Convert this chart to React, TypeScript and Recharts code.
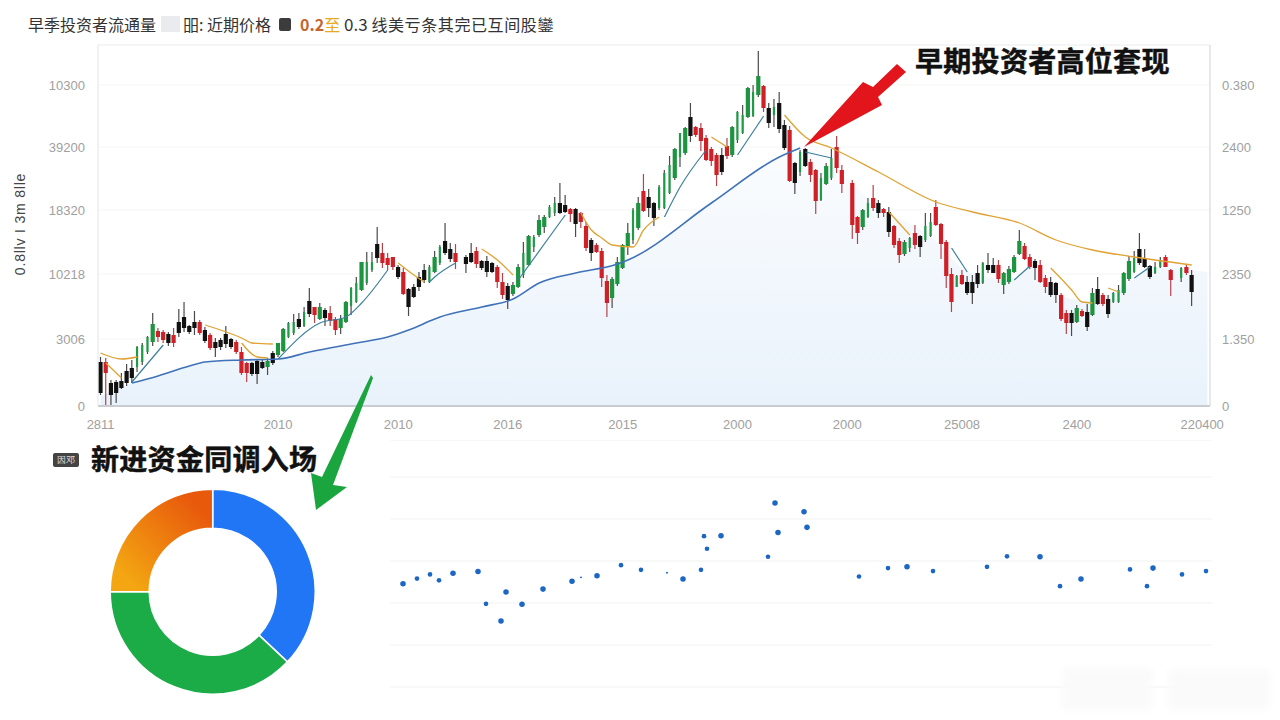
import React from 'react';
import {
  Area,
  Bar,
  CartesianGrid,
  Cell,
  ComposedChart,
  Line,
  Pie,
  PieChart,
  ReferenceLine,
  Scatter,
  ScatterChart,
  XAxis,
  YAxis,
  ZAxis,
} from 'recharts';

const FONT = '"Noto Sans CJK SC", "Noto Sans", sans-serif';
const AXIS_FONT = '"Liberation Sans", Arial, sans-serif';

// [high, body top, body bottom, low, kind]  u green, t thin green, d red, k black
type Candle = [number, number, number, number, string] | null;

const earlyCandles: Candle[] = [
  [49, 44, 13, 11, 'k'], [48, 44, 33, 1, 'd'], [26, 23, 11, 1, 'k'], [26, 24, 13, 3, 'k'], [33, 25, 18, 17, 'k'],
  [42, 35, 23, 20, 'k'], [46, 38, 28, 23, 'k'], [60, 59, 39, 34, 't'], [63, 61, 44, 41, 't'], [70, 69, 54, 52, 't'],
  [93, 82, 64, 60, 'u'], [78, 75, 69, 64, 'd'], [76, 74, 66, 63, 'd'], [74, 72, 63, 60, 'k'], [78, 71, 63, 59, 'd'],
  [97, 84, 73, 69, 'k'], [104, 89, 78, 74, 'k'], [81, 80, 74, 72, 'k'], [95, 84, 78, 71, 'k'],
  [86, 84, 73, 71, 'd'], [79, 76, 65, 63, 'k'], [73, 71, 58, 56, 'd'], [68, 64, 58, 49, 'k'], [68, 66, 59, 56, 'k'],
  [80, 72, 62, 58, 'k'], [68, 67, 59, 57, 'k'], [66, 64, 54, 52, 'd'], [59, 54, 33, 31, 'd'], [44, 43, 33, 24, 'd'],
  [44, 43, 32, 30, 'k'], [47, 45, 32, 22, 'k'], [46, 44, 38, 37, 'k'], [48, 45, 39, 31, 'u'], [55, 53, 43, 41, 'k'],
  [63, 63, 51, 49, 'u'], [78, 77, 55, 54, 'u'], [84, 83, 69, 68, 't'], [92, 84, 73, 71, 't'], [93, 87, 79, 77, 'k'],
  [99, 94, 80, 79, 't'], [118, 105, 92, 89, 'k'], [99, 99, 91, 83, 'd'], [103, 99, 87, 86, 'u'], [98, 96, 88, 80, 'k'],
  [100, 93, 85, 80, 'd'], [89, 87, 76, 71, 'd'], [91, 87, 78, 72, 'u'], [105, 104, 84, 83, 'u'], [119, 118, 100, 91, 't'],
  [129, 123, 104, 103, 't'], [144, 144, 116, 115, 'u'], [154, 144, 123, 121, 't'], [154, 144, 136, 134, 't'], [179, 162, 148, 143, 'k'],
  [163, 153, 143, 138, 'd'], [153, 148, 141, 136, 'd'], [149, 149, 139, 136, 'd'], [141, 139, 129, 127, 'k'], [138, 134, 112, 111, 'd'],
  [118, 117, 99, 90, 'k'], [122, 119, 109, 108, 'k'], [134, 129, 119, 115, 'k'], [142, 136, 126, 123, 'k'], [141, 139, 124, 123, 't'],
  [155, 149, 134, 133, 'u'], [161, 159, 143, 141, 't'], [183, 165, 153, 151, 'k'], [163, 157, 147, 144, 'k'], [162, 153, 144, 137, 'd'],
  null, [151, 149, 142, 133, 'k'], [163, 153, 144, 143, 'k'], [159, 155, 142, 138, 'd'], [146, 145, 138, 136, 'k'], [150, 145, 134, 129, 'k'],
];

const midCandles: Candle[] = [
  [144, 143, 134, 133, 'k'], [141, 139, 124, 118, 'd'], [133, 124, 111, 107, 'd'], [123, 120, 106, 97, 'k'], [124, 121, 112, 110, 'u'],
  [142, 139, 119, 118, 'u'], [164, 153, 131, 128, 't'], [171, 170, 141, 140, 'u'], [171, 169, 159, 154, 't'],
  [191, 186, 171, 169, 'u'], [191, 189, 179, 173, 'u'], [201, 199, 189, 188, 't'], [209, 203, 193, 190, 't'], [223, 203, 193, 192, 'k'],
  [211, 201, 194, 193, 'k'], [198, 197, 192, 184, 'd'], [198, 197, 182, 169, 'k'], [194, 193, 184, 178, 'd'], [184, 180, 158, 155, 'd'],
  [168, 166, 153, 145, 'k'], [163, 161, 154, 153, 'd'], [158, 155, 128, 119, 'd'], [131, 125, 103, 89, 'd'], [129, 127, 108, 98, 'u'],
  [149, 144, 122, 120, 'u'], [162, 161, 138, 137, 'u'], [183, 173, 160, 151, 'u'], [198, 196, 166, 162, 't'], [209, 203, 178, 176, 'u'],
  [232, 215, 195, 194, 'd'], [217, 209, 198, 189, 'k'], [204, 203, 188, 180, 'k'], [221, 219, 198, 196, 't'], [236, 233, 198, 197, 't'],
  [250, 241, 213, 212, 't'], [258, 257, 228, 226, 'u'], [273, 273, 249, 239, 't'], [279, 278, 253, 251, 'u'], [303, 289, 270, 264, 'k'],
  [280, 279, 271, 269, 'd'], [283, 278, 265, 255, 'd'], [271, 268, 246, 245, 'd'], [259, 257, 245, 240, 'd'], [253, 251, 231, 220, 'd'],
  [258, 251, 234, 231, 'k'], [268, 260, 250, 247, 'd'], [280, 279, 251, 249, 'u'], [295, 294, 266, 263, 't'], [301, 291, 273, 272, 't'],
  [319, 318, 289, 288, 'u'], [321, 314, 290, 289, 't'], [355, 330, 311, 309, 'u'], [321, 320, 298, 294, 'd'], [303, 298, 283, 278, 'k'],
  [307, 299, 291, 279, 't'], [314, 303, 277, 273, 'k'], [286, 281, 258, 256, 'k'], [280, 276, 225, 224, 'd'], [244, 243, 223, 212, 'k'],
  [256, 254, 234, 230, 't'], [258, 257, 240, 239, 'k'], [247, 244, 231, 224, 'd'], [237, 236, 205, 192, 'd'], [233, 228, 206, 205, 't'],
  [243, 240, 222, 221, 'u'], [257, 248, 228, 226, 't'], [270, 259, 238, 233, 'd'], [241, 236, 222, 213, 'd'], null, [226, 223, 181, 167, 'd'],
  [190, 189, 173, 162, 'd'], [197, 196, 179, 176, 'u'], [208, 203, 189, 188, 't'], [221, 208, 198, 195, 'd'], [206, 203, 193, 188, 'k'],
];

const lateCandles: Candle[] = [
  [198, 197, 193, 189, 'd'], [199, 194, 174, 169, 'k'], [181, 180, 161, 158, 'd'], [168, 165, 151, 143, 'd'], [166, 164, 152, 150, 'u'],
  [169, 168, 158, 154, 't'], [181, 173, 161, 157, 'd'], [171, 170, 159, 149, 'k'], [193, 180, 166, 164, 't'], [193, 184, 170, 169, 't'],
  [206, 199, 181, 180, 'd'], [183, 182, 162, 147, 'd'], [166, 164, 130, 118, 'd'], [138, 132, 104, 94, 'd'], [131, 130, 119, 119, 't'],
  [136, 131, 122, 121, 'd'], [130, 124, 113, 111, 'k'], [131, 124, 113, 102, 'k'], [141, 133, 122, 118, 'k'], [144, 143, 123, 122, 't'],
  [153, 141, 136, 133, 'k'], [148, 141, 133, 133, 'k'], [146, 141, 127, 123, 'd'], [134, 133, 121, 112, 'u'], [140, 137, 124, 122, 'u'],
  [151, 149, 134, 133, 'u'], [176, 165, 152, 151, 'u'], [163, 160, 147, 146, 'd'], [152, 149, 139, 137, 'd'], [147, 145, 138, 126, 'k'],
  [146, 141, 124, 123, 'd'], [131, 128, 119, 113, 'd'], [129, 124, 111, 109, 'k'], [124, 123, 111, 103, 'k'], [113, 111, 87, 85, 'd'],
  [96, 93, 83, 72, 'd'], [96, 93, 83, 70, 'k'], [101, 98, 84, 83, 'u'], [97, 95, 90, 89, 'd'], [102, 94, 79, 75, 'k'],
  [118, 113, 91, 90, 'u'], [129, 117, 102, 101, 'k'], [113, 111, 102, 100, 'd'], [111, 107, 92, 88, 'k'], [114, 113, 104, 103, 't'],
  [121, 116, 104, 103, 't'], [134, 133, 113, 111, 'u'], [150, 145, 127, 125, 'u'], [155, 148, 134, 133, 't'], [173, 157, 143, 141, 'k'],
  [157, 148, 139, 138, 'k'], [141, 140, 129, 127, 'k'], [144, 139, 133, 132, 't'], [149, 146, 139, 138, 't'], [151, 149, 139, 139, 'd'],
  [137, 136, 126, 110, 'd'], null, [139, 138, 128, 124, 't'], [141, 139, 133, 131, 'd'], [136, 131, 114, 100, 'k'],
];

const candles = [...earlyCandles, ...midCandles, ...lateCandles];

// [row, level]
const longBlue = [[6, 23], [11, 30], [17, 40], [20, 44], [27, 46], [34, 47], [40, 54], [49, 63], [55, 69], [59, 76], [65, 89], [73, 99], [79, 107], [84, 123], [91, 133], [99, 142], [101, 146], [117, 203], [130, 249], [134, 258]];
const shortBlue1 = [[6, 24], [12, 61]];
const shortBlue2 = [[34, 47], [42, 83], [47, 89], [50, 103], [55, 136]];
const shortBlue3 = [[63, 124], [64, 129], [68, 143]];
const shortBlue4 = [[80, 126], [89, 191]];
const shortBlue5 = [[108, 189], [111, 219], [116, 256]];
const shortBlue6 = [[122, 251], [127, 290]];
const shortBlue7 = [[135, 254], [140, 248]];
const shortBlue8 = [[163, 158], [166, 134]];
const shortBlue9 = [[175, 126], [178, 140]];
const shortBlue10 = [[198, 128], [201, 139]];
const gold1 = [[0, 53], [4, 47], [7, 49]];
const gold2 = [[1, 43], [4, 28]];
const gold3 = [[20, 81], [27, 68], [29, 63], [33, 62]];
const gold4 = [[27, 63], [30, 49], [32, 48]];
const gold5 = [[57, 143], [60, 131], [62, 124]];
const gold6 = [[73, 157], [76, 146], [79, 131]];
const gold7 = [[92, 193], [94, 176], [96, 168], [98, 161], [102, 159], [104, 176], [107, 189]];
const gold8 = [[117, 269], [120, 259]];
const gold9 = [[131, 291], [135, 269], [140, 258], [149, 234], [160, 204], [167, 194], [176, 183], [183, 166], [190, 156], [198, 149], [209, 141]];
const gold10 = [[151, 194], [155, 171]];
const gold11 = [[182, 138], [186, 116], [188, 104], [190, 103]];
const gold12 = [[193, 118], [195, 114]];
const fillLevels = [[0, 10], [6, 23], [11, 30], [17, 40], [20, 44], [27, 46], [34, 47], [40, 54], [49, 63], [55, 69], [59, 76], [65, 89], [73, 99], [79, 107], [84, 123], [91, 133], [99, 142], [101, 146], [117, 203], [130, 249], [134, 258], [149, 200], [160, 165], [166, 135], [175, 126], [178, 140], [184, 110], [190, 105], [198, 128], [201, 139], [212, 134]];

const blueSegments = [shortBlue1, shortBlue2, shortBlue3, shortBlue4, shortBlue5, shortBlue6, shortBlue7, shortBlue8, shortBlue9, shortBlue10];
const goldSegments = [gold1, gold2, gold3, gold4, gold5, gold6, gold7, gold8, gold9, gold10, gold11, gold12];

const ROW_COUNT = 213;
const yTicks = [0, 67, 132, 196, 259, 321];
const leftLabels = ['0', '3006', '10218', '18320', '39200', '10300'];
const rightLabels = ['0', '1.350', '2350', '1250', '2400', '0.380'];
const xTicks = [0, 34, 57, 78, 100, 122, 143, 165, 187, 211];
const xLabels = ['2811', '2010', '2010', '2016', '2015', '2000', '2000', '25008', '2400', '220400'];

const rows: any[] = [];
for (let i = 0; i < ROW_COUNT; i++) {
  const c = candles[i];
  rows.push(c ? { i, range: [c[3], c[0]], top: c[1], bottom: c[2], kind: c[4] } : { i });
}
const addSeries = (key: string, points: number[][]) => {
  points.forEach(([i, v]) => {
    rows[i][key] = v;
  });
};
addSeries('fillLevel', fillLevels);
addSeries('longBlue', longBlue);
blueSegments.forEach((s, n) => addSeries('blue' + n, s));
goldSegments.forEach((s, n) => addSeries('gold' + n, s));

// donut shares, clockwise from the top
const shareNames = ['blue', 'green', 'orange'];
const shareValues = [37, 38, 25];
const shareColors = ['#2176f5', '#1bab47', 'url(#orangeFade)'];
const shares = shareNames.map((name, n) => ({ name, value: shareValues[n] }));

// lower dot panel
const dotX = [13, 27, 40, 49, 63, 88, 96, 111, 116, 132, 153, 182, 191, 207, 231, 251, 277, 293, 311, 314, 317, 331, 378, 385, 388, 414, 417, 469, 498, 517, 543, 597, 617, 650, 670, 691, 740, 757, 763, 792, 816];
const dotY = [24.6, 25.8, 26.8, 25.4, 27.1, 27.5, 19.8, 15.7, 22.6, 19.7, 23.3, 25.2, 26.1, 26.5, 29, 27.9, 27.2, 25.7, 27.9, 35.9, 32.9, 36, 31, 43.8, 36.8, 41.7, 38, 26.3, 28.3, 28.6, 27.6, 28.6, 31.1, 31, 24, 25.7, 28, 24, 28.3, 26.8, 27.6];
const dotSize = [3, 2, 2, 2, 3, 3, 2, 3, 3, 3, 3, 3, 0, 3, 2, 2, 0, 3, 2, 2, 2, 3, 2, 3, 3, 3, 3, 2, 2, 3, 2, 2, 2, 3, 2, 3, 2, 2, 3, 2, 2];
const dots = dotX.map((x, n) => ({ x, y: dotY[n], size: dotSize[n] }));
const dotGrid = [0, 10, 20, 30, 40, 50, 58.8];

const candleColors: Record<string, string> = { u: '#1c9440', t: '#1f9a47', d: '#cf1f27', k: '#111111' };

const CandleShape = (props: any) => {
  const { x, y, width, height, payload } = props;
  if (!payload || !payload.range) return null;
  const [low, high] = payload.range;
  const perUnit = Math.abs(height) / (high - low);
  const cx = x + width / 2;
  const bodyWidth = payload.kind === 't' ? 2.2 : 4.2;
  const bodyY = y + (high - payload.top) * perUnit;
  const bodyH = Math.max((payload.top - payload.bottom) * perUnit, 1);
  return (
    <g>
      <line x1={cx} x2={cx} y1={y} y2={y + Math.abs(height)} stroke={payload.kind === 'd' ? '#b5434a' : '#4a4a4a'} strokeWidth={1.2} />
      <rect x={cx - bodyWidth / 2} y={bodyY} width={bodyWidth} height={bodyH} fill={candleColors[payload.kind]} />
    </g>
  );
};

const axisTick = { fill: '#a0a0a0', fontSize: 13, fontFamily: AXIS_FONT };

const titleStyle: React.CSSProperties = {
  position: 'absolute',
  left: 28,
  top: 12,
  fontFamily: FONT,
  fontSize: 16,
  lineHeight: '24px',
  color: '#333',
  whiteSpace: 'nowrap',
  display: 'flex',
  alignItems: 'center',
};

const calloutStyle: React.CSSProperties = {
  position: 'absolute',
  fontFamily: FONT,
  fontSize: 28,
  fontWeight: 700,
  lineHeight: '36px',
  color: '#111',
  whiteSpace: 'nowrap',
  letterSpacing: 0.3,
  WebkitTextStroke: '0.5px #111',
};

export default function App() {
  return (
    <div style={{ position: 'absolute', left: 0, top: 0, width: 1280, height: 720, background: '#fff', overflow: 'hidden' }}>
      <div style={{ position: 'absolute', left: 0, top: 0 }}>
        <ComposedChart width={1280} height={440} data={rows} margin={{ top: 45, right: 0, bottom: 0, left: 0 }} barCategoryGap={0}>
          <defs>
            <linearGradient id="skyFill" x1="0" y1="0" x2="0" y2="1">
              <stop offset="0%" stopColor="#fafcfe" />
              <stop offset="100%" stopColor="#e9f2fb" />
            </linearGradient>
          </defs>
          <CartesianGrid vertical={false} stroke="#f4f5f6" yAxisId="left" />
          <XAxis
            dataKey="i"
            type="category"
            ticks={xTicks}
            interval={0}
            height={34}
            tickLine={false}
            tickSize={0}
            tickMargin={14}
            tick={axisTick}
            axisLine={{ stroke: '#c9cdd1', strokeWidth: 2 }}
            tickFormatter={(v: number) => xLabels[xTicks.indexOf(v)]}
          />
          <YAxis
            yAxisId="left"
            width={98}
            domain={[0, 361]}
            ticks={yTicks}
            interval={0}
            tickLine={false}
            tickSize={0}
            tickMargin={13}
            tick={axisTick}
            axisLine={{ stroke: '#e2e4e6' }}
            tickFormatter={(v: number) => leftLabels[yTicks.indexOf(v)]}
          />
          <YAxis
            yAxisId="right"
            orientation="right"
            width={70}
            domain={[0, 361]}
            ticks={yTicks}
            interval={0}
            tickLine={false}
            tickSize={0}
            tickMargin={12}
            tick={axisTick}
            axisLine={{ stroke: '#cfd2d5' }}
            tickFormatter={(v: number) => rightLabels[yTicks.indexOf(v)]}
          />
          <ReferenceLine yAxisId="left" y={361} stroke="#f0f1f2" />
          <Area yAxisId="left" dataKey="fillLevel" type="monotone" connectNulls stroke="none" fill="url(#skyFill)" fillOpacity={1} isAnimationActive={false} />
          <Line yAxisId="right" dataKey="longBlue" type="monotone" connectNulls dot={false} stroke="#3f72b8" strokeWidth={1.6} isAnimationActive={false} />
          {blueSegments.map((_, n) => (
            <Line key={'blue' + n} yAxisId="left" dataKey={'blue' + n} type="monotone" connectNulls dot={false} stroke="#3d7f9e" strokeWidth={1.2} isAnimationActive={false} />
          ))}
          {goldSegments.map((_, n) => (
            <Line key={'gold' + n} yAxisId="left" dataKey={'gold' + n} type="monotone" connectNulls dot={false} stroke="#e0a232" strokeWidth={1.3} isAnimationActive={false} />
          ))}
          <Bar yAxisId="left" dataKey="range" shape={CandleShape} isAnimationActive={false} />
        </ComposedChart>
      </div>

      <div style={{ position: 'absolute', left: 100, top: 480 }}>
        <PieChart width={225} height={220} margin={{ top: 0, right: 0, bottom: 0, left: 0 }}>
          <defs>
            <linearGradient id="orangeFade" x1="0" y1="1" x2="1" y2="0">
              <stop offset="15%" stopColor="#f3a512" />
              <stop offset="85%" stopColor="#e8590c" />
            </linearGradient>
          </defs>
          <Pie
            data={shares}
            dataKey="value"
            cx={112.7}
            cy={111.7}
            innerRadius={63.5}
            outerRadius={102.5}
            startAngle={90}
            endAngle={-270}
            stroke="#fff"
            strokeWidth={1.5}
            isAnimationActive={false}
          >
            {shares.map((s, n) => (
              <Cell key={s.name} fill={shareColors[n]} />
            ))}
          </Pie>
        </PieChart>
      </div>

      <div style={{ position: 'absolute', left: 390, top: 440 }}>
        <ScatterChart width={822} height={248} margin={{ top: 0, right: 0, bottom: 1, left: 0 }}>
          <CartesianGrid vertical={false} stroke="#f1f2f3" />
          <XAxis dataKey="x" type="number" domain={[0, 822]} hide />
          <YAxis
            dataKey="y"
            type="number"
            domain={[0, 58.8]}
            ticks={dotGrid}
            interval={0}
            width={0}
            tick={{ fill: 'transparent', fontSize: 1 }}
            axisLine={false}
            tickLine={false}
          />
          <ZAxis dataKey="size" type="number" domain={[0, 3]} range={[3, 24]} />
          <Scatter data={dots} fill="#1c66c4" isAnimationActive={false} />
        </ScatterChart>
      </div>

      <svg width={1280} height={720} style={{ position: 'absolute', left: 0, top: 0, pointerEvents: 'none' }}>
        <defs>
          <filter id="smudge"><feGaussianBlur stdDeviation="4" /></filter>
        </defs>
        <rect x={1062} y={668} width={90} height={42} fill="#fafafa" filter="url(#smudge)" />
        <rect x={1168} y={670} width={102} height={40} fill="#fafafa" filter="url(#smudge)" />
        <polygon points="804,147 863,82 873,87 897,64 906,72 878,97 882,105" fill="#e2141c" />
        <polygon points="371,375 373,378 333,485 347,487 316,510 311,473 322,477" fill="#1aa53f" />
      </svg>

      <div style={titleStyle}>
        <span>早季投资者流通量</span>
        <span style={{ display: 'inline-block', width: 19, height: 16, margin: '0 3px 0 5px', background: '#e9ebee' }} />
        <span>昍: 近期价格</span>
        <span style={{ display: 'inline-block', width: 12, height: 13, margin: '0 9px 0 8px', background: '#3c3c3c', borderRadius: 2 }} />
        <span style={{ color: '#c8642a', fontWeight: 700 }}>0.2</span>
        <span style={{ color: '#e8a820' }}>至</span>
        <span style={{ fontSize: 17 }}>&nbsp;0.3&nbsp;</span>
        <span style={{ letterSpacing: 0.6 }}>线美亏条其完已互间股鑾</span>
      </div>

      <div style={{ ...calloutStyle, left: 915, top: 42 }}>早期投资者高位套现</div>
      <div style={{ ...calloutStyle, left: 91, top: 440 }}>新进资金同调入场</div>
      <div
        style={{
          position: 'absolute',
          left: 53,
          top: 453,
          width: 26,
          height: 14,
          background: '#444',
          borderRadius: 2,
          color: '#ddd',
          fontFamily: AXIS_FONT,
          fontSize: 9,
          lineHeight: '14px',
          textAlign: 'center',
        }}
      >
        因邓
      </div>
      <div
        style={{
          position: 'absolute',
          left: 20,
          top: 224,
          transform: 'translate(-50%, -50%) rotate(-90deg)',
          fontFamily: AXIS_FONT,
          fontSize: 14,
          letterSpacing: 0.8,
          color: '#444',
          whiteSpace: 'nowrap',
        }}
      >
        0.8llv I 3m 8lle
      </div>
    </div>
  );
}
